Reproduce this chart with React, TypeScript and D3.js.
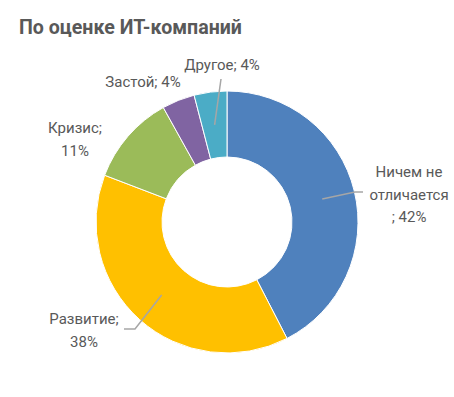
import React from 'react';
import * as d3 from 'd3';

const categories = ['Ничем не отличается', 'Развитие', 'Кризис', 'Застой', 'Другое'];
const values = [42, 38, 11, 4, 4];
const labelLines = [
  ['Ничем не', 'отличается', '; 42%'],
  ['Развитие;', '38%'],
  ['Кризис;', '11%'],
  ['Застой; 4%'],
  ['Другое; 4%'],
];
const colors = ['#4F81BD', '#FFC000', '#9BBB59', '#8064A2', '#4BACC6'];

// label layout relative to the donut centre: text anchor, leader end, elbow end
const labelLayout = [
  { x: 182, y: -45, line: [[128, -30], [136, -30]] },
  { x: -143, y: 102, line: [[-92, 107], [-103, 107]] },
  { x: -152, y: -89, line: null },
  { x: -84, y: -135, line: null },
  { x: -5, y: -152, line: [[-6, -143]] },
];

const App = () => {
  const width = 454, height = 397;
  const cx = 227, cy = 222;
  const outer = 131, inner = 65;

  const pie = d3.pie<number>().sort(null).value(d => d);
  const arcs = pie(values);
  const arc = d3.arc<d3.PieArcDatum<number>>().innerRadius(inner).outerRadius(outer);

  return (
    <svg width={width} height={height} style={{ position: 'absolute', left: 0, top: 0, background: '#fff' }}>
      <text x={19} y={34} fontFamily="Roboto, sans-serif" fontWeight="bold" fontSize={19.6} fill="#595959">
        По оценке ИТ-компаний
      </text>
      <g transform={`translate(${cx},${cy})`}>
        {arcs.map((a, i) => (
          <path key={categories[i]} d={arc(a) || ''} fill={colors[i]} stroke="#fff" strokeWidth={1} />
        ))}
        {arcs.map((a, i) => {
          const lay = labelLayout[i];
          if (!lay.line) return null;
          const [sx, sy] = arc.centroid(a);
          const pts = [[sx, sy], ...lay.line];
          return (
            <path key={'l' + i} d={d3.line()(pts as [number, number][]) || ''} fill="none" stroke="#A6A6A6" strokeWidth={1.5} />
          );
        })}
        {labelLines.map((lines, i) => (
          <text key={'t' + i} x={labelLayout[i].x} y={labelLayout[i].y} textAnchor="middle"
            fontFamily="Roboto, sans-serif" fontSize={15} fill="#595959">
            {lines.map((t, j) => (
              <tspan key={j} x={labelLayout[i].x} dy={j === 0 ? 0 : 22.5}>{t}</tspan>
            ))}
          </text>
        ))}
      </g>
    </svg>
  );
};

export default App;
